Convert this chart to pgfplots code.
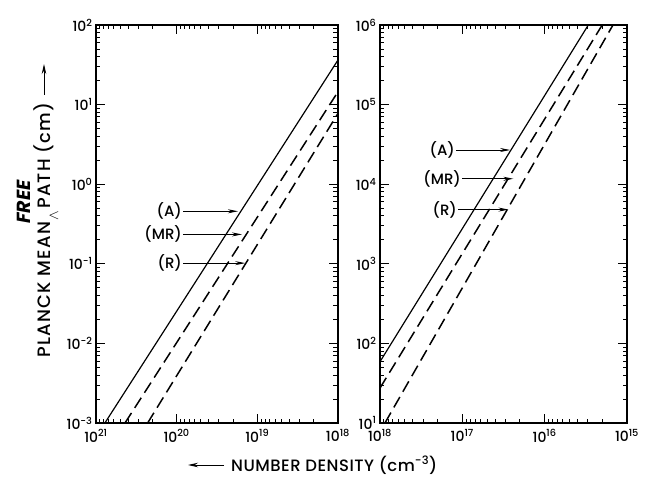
\documentclass[border=0pt]{standalone}
\usepackage{fontspec}
\setmainfont{Poppins}[UprightFont={* Medium}, BoldFont={* Bold}, ItalicFont={* Medium Italic}, BoldItalicFont={* Bold Italic}]
\usepackage{pgfplots}
\pgfplotsset{compat=1.18}
\usetikzlibrary{arrows.meta}
\pgfplotsset{
  panel/.style={
    anchor=south west, scale only axis, height=398bp,
    x dir=reverse,
    tick align=inside, major tick length=9bp, minor tick length=4.5bp,
    axis line style={line width=1.5pt},
    every tick/.style={line width=0.9pt, black},
    ticklabel style={font=\fontsize{14}{14}\selectfont},
    xticklabel style={yshift=-3bp},
  },
  curveA/.style={black, line width=1.2pt},
  curveD/.style={black, line width=1.5pt, dash pattern=on 12bp off 6bp},
}
\tikzset{
  lab/.style={anchor=east, font=\fontsize{15}{15}\selectfont, inner sep=1bp},
  arr/.style={-{Stealth[length=10bp,width=4bp]}, line width=0.9pt},
}
\begin{document}
\begin{tikzpicture}[x=1bp,y=1bp]
\useasboundingbox (0,0) rectangle (660,-486);
\begin{loglogaxis}[panel, at={(96bp,-423bp)}, width=242bp,
  xmin=1e18, xmax=1e21, ymin=1e-3, ymax=1e2,
  xtick={1e18,1e19,1e20,1e21},
  xticklabels={10\textsuperscript{18},10\textsuperscript{19},10\textsuperscript{20},10\textsuperscript{21}},
  ytick={1e-3,1e-2,1e-1,1e0,1e1,1e2},
  yticklabels={10\textsuperscript{-3},10\textsuperscript{-2},10\textsuperscript{-1},10\textsuperscript{0},10\textsuperscript{1},10\textsuperscript{2}},
]
\addplot[curveA] coordinates {(7.76e20,1e-3) (1e18,36.3)};
\addplot[curveD] coordinates {(4.37e20,1e-3) (1e18,14.5)};
\addplot[curveD] coordinates {(2.29e20,1e-3) (1e18,7.76)};
\draw[arr] (axis cs:8.3e19,0.457) -- (axis cs:1.74e19,0.457);
\draw[arr] (axis cs:8.3e19,0.234) -- (axis cs:1.55e19,0.234);
\draw[arr] (axis cs:8.3e19,0.102) -- (axis cs:1.41e19,0.102);
\end{loglogaxis}
\node[lab] at (183,-211) {(A)};
\node[lab] at (183,-234) {(MR)};
\node[lab] at (183,-263) {(R)};
\begin{loglogaxis}[panel, at={(380bp,-423bp)}, width=247bp,
  xmin=1e15, xmax=1e18, ymin=1e1, ymax=1e6,
  xtick={1e15,1e16,1e17,1e18},
  xticklabels={10\textsuperscript{15},10\textsuperscript{16},10\textsuperscript{17},10\textsuperscript{18}},
  ytick={1e1,1e2,1e3,1e4,1e5,1e6},
  yticklabels={10\textsuperscript{1},10\textsuperscript{2},10\textsuperscript{3},10\textsuperscript{4},10\textsuperscript{5},10\textsuperscript{6}},
]
\addplot[curveA] coordinates {(1e18,58.9) (2.95e15,1e6)};
\addplot[curveD] coordinates {(1e18,27.5) (2.0e15,1e6)};
\addplot[curveD] coordinates {(8.71e17,10) (1.48e15,1e6)};
\draw[arr] (axis cs:1.2e17,2.69e4) -- (axis cs:2.63e16,2.69e4);
\draw[arr] (axis cs:1.0e17,1.17e4) -- (axis cs:2.4e16,1.17e4);
\draw[arr] (axis cs:1.12e17,4.8e3) -- (axis cs:2.75e16,4.8e3);
\end{loglogaxis}
\node[lab] at (456,-150) {(A)};
\node[lab] at (462,-179) {(MR)};
\node[lab] at (458,-210) {(R)};
% y label
\node[rotate=90, anchor=base west, inner sep=0pt,
  font=\fontsize{18}{18}\selectfont\addfontfeatures{LetterSpace=7}] at (50,-358)
  {PLANCK MEAN\hspace{0.1em}\raisebox{-0.45em}[0pt][0pt]{\fontsize{14}{14}\selectfont$\wedge$}\hspace{0.1em}PATH (cm)};
\draw[-{Stealth[length=10bp,width=4.5bp]}, line width=1pt] (44,-95) -- (44,-64);
\node[rotate=90, font=\fontsize{19}{19}\itshape\bfseries\selectfont] at (24,-202) {FREE};
% x label
\draw[-{Stealth[length=10bp,width=4.5bp]}, line width=1pt] (224,-465) -- (188,-465);
\node[anchor=west, inner sep=0pt,
  font=\fontsize{16.5}{16.5}\selectfont\addfontfeatures{LetterSpace=3}] at (231,-465) {NUMBER DENSITY (cm\textsuperscript{-3})};
\end{tikzpicture}
\end{document}
